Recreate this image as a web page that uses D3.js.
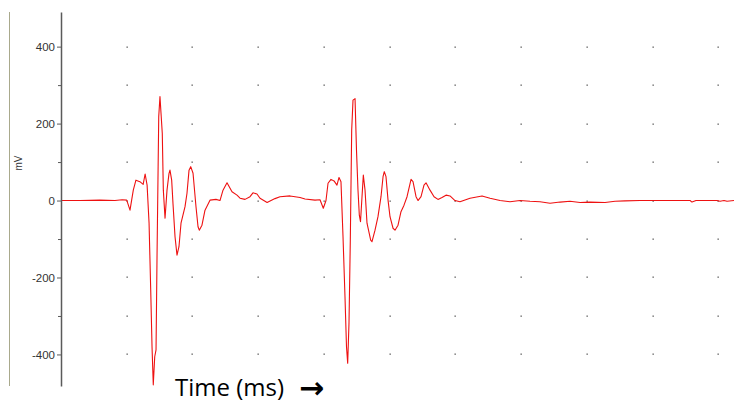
<!DOCTYPE html>
<html>
<head>
<meta charset="utf-8">
<script src="https://cdn.jsdelivr.net/npm/d3@7"></script>
<style>
  body { margin: 0; background: #fff; }
  svg { display: block; }
</style>
</head>
<body>
<svg></svg>
<script>
// trace samples (time in ms, voltage in mV)
let times = [0, 2.9, 5.9, 8.2, 9.3, 10.0, 10.5, 11.0, 11.4, 12.0, 12.5, 12.8, 13.1, 13.4,
    13.65, 13.85, 14.04, 14.26, 14.46, 14.61, 14.87, 15.06, 15.22, 15.41, 15.57, 15.83,
    16.13, 16.43, 16.58, 16.84, 17.04, 17.35, 17.65, 17.95, 18.26, 18.87, 19.17, 19.48,
    19.74, 20.09, 20.54, 20.85, 21.04, 21.45, 21.91, 22.67, 23.58, 24.19, 24.65, 25.26,
    26.02, 26.78, 27.24, 28.0, 28.76, 29.21, 29.82, 30.28, 31.36, 32.56, 33.32, 34.85,
    36.37, 37.13, 38.65, 39.41, 39.91, 40.32, 40.63, 41.08, 41.54, 41.99, 42.3, 42.6,
    42.91, 43.21, 43.44, 43.62, 43.82, 44.02, 44.23, 44.43, 44.74, 44.96, 45.19, 45.39,
    45.57, 45.8, 46.0, 46.26, 46.56, 47.12, 47.32, 47.78, 48.23, 48.69, 49.0, 49.19,
    49.45, 49.76, 50.06, 50.52, 50.82, 51.28, 51.73, 52.19, 52.65, 53.26, 53.56, 54.02,
    54.32, 54.78, 55.23, 55.54, 56.15, 56.76, 57.36, 57.97, 58.58, 59.19, 59.95, 60.71,
    62.23, 64.06, 65.28, 66.8, 68.32, 69.84, 71.36, 72.88, 74.41, 75.93, 77.45, 78.97,
    80.49, 82.78, 84.3, 85.82, 88.1, 95.71, 96.01, 96.62, 99.82, 100.27, 100.88, 101.34, 102.4];

let millivolts = [0, 0, 1, 0, 2, 1, -25, 27, 53, 49, 42, 69, 40, -59,
    -232, -380, -479, -406, -388, -146, 218, 270, 226, 175, 27, -46,
    27, 70, 79, 53, -8, -94, -142, -120, -59, -16, 19, 79,
    88, 71, -16, -68, -77, -64, -25, 1, 3, 0, 27, 46,
    23, 14, 6, 3, 10, 20, 17, 6, -5, 5, 10, 12,
    8, 4, 1, 2, -20, 0, 45, 55, 51, 40, 60, 49,
    -94, -250, -380, -423, -318, -103, 183, 261, 265, 131, 27, -38,
    -55, 10, 66, 27, -59, -103, -107, -77, -42, 10, 62, 75,
    62, 1, -42, -72, -77, -64, -29, -12, 10, 55, 49, 10,
    0, 10, 40, 46, 27, 10, 3, 8, 14, 12, 0, -3,
    6, 12, 6, 0, -3, 0, -2, -3, -7, -4, -2, -5,
    -4, -5, -2, -1, 0, 0, -4, 0, 0, -2, 0, -2, 0];

let labelTicks = [-400, -200, 0, 200, 400];
let minorTicks = [-300, -100, 100, 300];
let gridTimes = [10, 20, 30, 40, 50, 60, 70, 80, 90, 100];
let gridVolts = [-400, -300, -200, -100, 0, 100, 200, 300, 400];

let svgWidth = 734, svgHeight = 404;

let svg = d3.select('svg')
    .attr('width', svgWidth)
    .attr('height', svgHeight);

let x = d3.scaleLinear().domain([0, 102.4]).range([61, 734]);
let y = d3.scaleLinear().domain([-482, 490]).range([386, 12]);

// olive rule on the far left
svg.append('line')
    .attr('x1', 9.5).attr('x2', 9.5)
    .attr('y1', 12).attr('y2', 386)
    .attr('stroke', '#a9a98c')
    .attr('stroke-width', 1);

// dotted grid
let dots = [];
gridTimes.forEach(function(t) {
    gridVolts.forEach(function(v) { dots.push([t, v]); });
});
svg.selectAll('rect.dot')
    .data(dots)
    .enter()
    .append('rect')
    .attr('class', 'dot')
    .attr('x', d => Math.round(x(d[0])) - 0.5)
    .attr('y', d => Math.round(y(d[1])) - 0.5)
    .attr('width', 1.3)
    .attr('height', 1.3)
    .attr('fill', '#555');

// the trace
let line = d3.line()
    .x((d, i) => x(times[i]))
    .y(d => y(d));

svg.append('path')
    .datum(millivolts)
    .attr('d', line)
    .attr('fill', 'none')
    .attr('stroke', '#ee1111')
    .attr('stroke-width', 1.1)
    .attr('stroke-linejoin', 'round');

// y axis
let axis = svg.append('g')
    .attr('transform', 'translate(61,0)')
    .call(d3.axisLeft(y).tickValues(labelTicks).tickSize(4).tickPadding(2).tickSizeOuter(0));

svg.append('g')
    .attr('transform', 'translate(61,0)')
    .call(d3.axisLeft(y).tickValues(minorTicks).tickSize(3).tickFormat('').tickSizeOuter(0))
    .select('.domain').remove();

axis.select('.domain')
    .attr('stroke', '#5a5a5a')
    .attr('stroke-width', 1.5);
svg.selectAll('.tick line').attr('stroke', '#5a5a5a');
axis.selectAll('.tick text')
    .attr('font-family', 'Liberation Sans, Arial, sans-serif')
    .attr('font-size', 11.5)
    .attr('fill', '#333')
    .text(d => d);

svg.append('text')
    .attr('transform', 'translate(22,163) rotate(-90)')
    .attr('text-anchor', 'middle')
    .attr('font-family', 'Liberation Sans, Arial, sans-serif')
    .attr('font-size', 10)
    .attr('fill', '#333')
    .text('mV');

// caption under the plot
let caption = svg.append('text')
    .attr('x', 175)
    .attr('y', 396)
    .attr('font-family', 'Open Sans, sans-serif')
    .attr('font-size', 24)
    .attr('fill', '#000');
caption.append('tspan').text('Time (ms) ');
caption.append('tspan')
    .attr('x', 299)
    .attr('y', 398)
    .attr('font-family', 'DejaVu Sans, sans-serif')
    .attr('font-size', 30)
    .attr('font-weight', 'bold')
    .text('→');
</script>
</body>
</html>
